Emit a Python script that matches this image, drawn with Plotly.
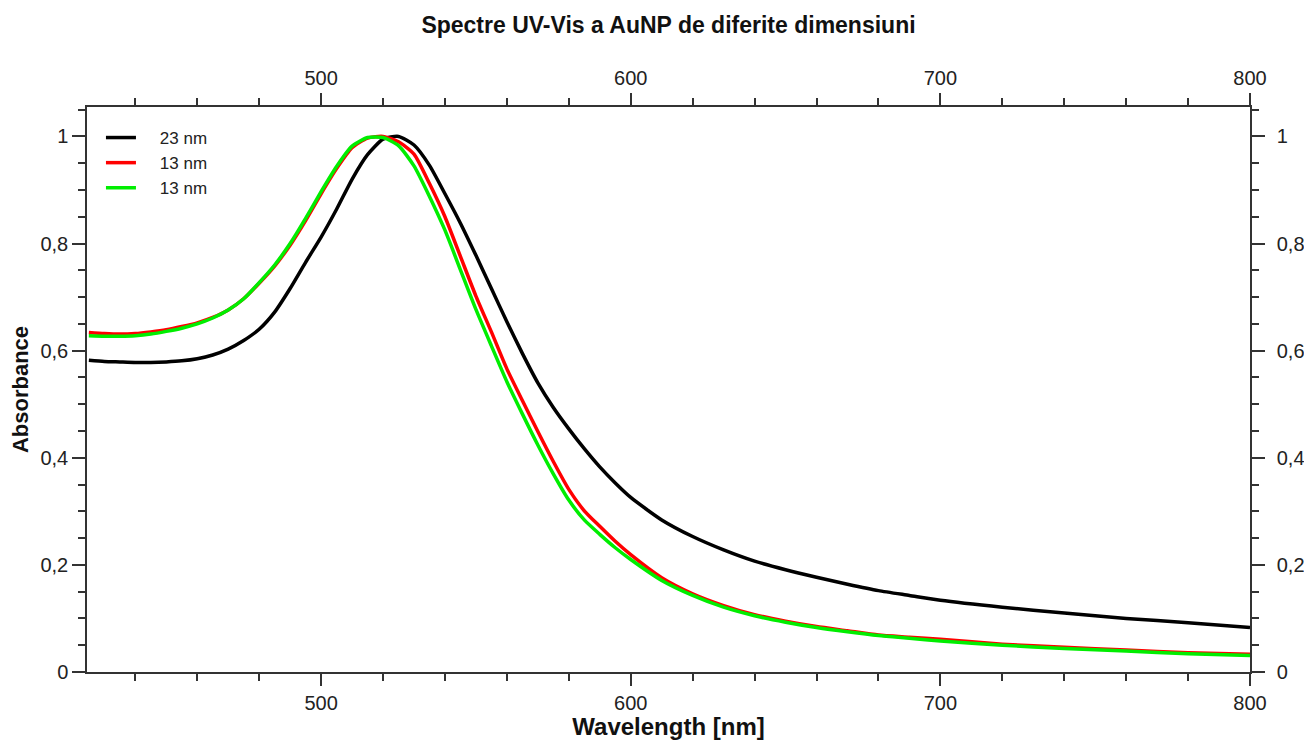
import plotly.graph_objects as go

# ---- data ----
wavelength = [425, 430, 435, 440, 445, 450, 455, 460, 465, 470, 475, 480, 485, 490, 495,
              500, 505, 510, 515, 520, 525, 530, 535, 540, 545, 550, 555, 560, 565, 570,
              575, 580, 585, 590, 595, 600, 610, 620, 630, 640, 650, 660, 670, 680, 690,
              700, 720, 740, 760, 780, 800]

abs_23nm = [0.582, 0.580, 0.579, 0.578, 0.578, 0.579, 0.581, 0.585, 0.592, 0.603, 0.619,
            0.640, 0.672, 0.716, 0.765, 0.812, 0.864, 0.920, 0.966, 0.995, 1.000, 0.984,
            0.946, 0.893, 0.838, 0.778, 0.716, 0.654, 0.595, 0.540, 0.494, 0.454, 0.417,
            0.383, 0.353, 0.326, 0.284, 0.253, 0.228, 0.207, 0.191, 0.177, 0.164, 0.152,
            0.143, 0.134, 0.121, 0.110, 0.100, 0.092, 0.083]

abs_13nm_a = [0.634, 0.632, 0.631, 0.632, 0.635, 0.639, 0.645, 0.652, 0.662, 0.676, 0.697,
              0.726, 0.758, 0.797, 0.843, 0.893, 0.940, 0.979, 0.997, 1.000, 0.990, 0.967,
              0.912, 0.850, 0.776, 0.702, 0.635, 0.566, 0.507, 0.449, 0.393, 0.341, 0.301,
              0.272, 0.244, 0.219, 0.176, 0.146, 0.124, 0.107, 0.095, 0.085, 0.077, 0.069,
              0.065, 0.061, 0.052, 0.046, 0.041, 0.036, 0.033]

abs_13nm_b = [0.628, 0.627, 0.627, 0.628, 0.631, 0.636, 0.642, 0.650, 0.661, 0.676, 0.697,
              0.727, 0.760, 0.800, 0.847, 0.897, 0.944, 0.982, 0.998, 0.998, 0.983, 0.945,
              0.888, 0.825, 0.751, 0.677, 0.609, 0.542, 0.482, 0.424, 0.370, 0.321, 0.284,
              0.257, 0.232, 0.210, 0.171, 0.143, 0.121, 0.105, 0.093, 0.083, 0.075, 0.068,
              0.063, 0.058, 0.050, 0.044, 0.039, 0.034, 0.031]

series_names = ["23 nm", "13 nm", "13 nm"]
series_colors = ["#000000", "#ff0000", "#00ee00"]

x_range = [424.4, 800]
y_range = [0, 1.055]

FONT = "Liberation Sans, Arial, sans-serif"
AXC = "#333333"
PAD = "\u00a0" * 4  # visual gap between legend line and label

fig = go.Figure()
for name, vals, col in zip(series_names, [abs_23nm, abs_13nm_a, abs_13nm_b], series_colors):
    fig.add_trace(go.Scatter(x=wavelength, y=vals, mode="lines", name=PAD + name,
                             line=dict(color=col, width=3.5, shape="spline", smoothing=0.6)))

# invisible companions so the mirrored top / right axes are drawn
fig.add_trace(go.Scatter(x=wavelength, y=abs_23nm, xaxis="x2", yaxis="y", mode="lines",
                         opacity=0, showlegend=False, hoverinfo="skip"))
fig.add_trace(go.Scatter(x=wavelength, y=abs_23nm, xaxis="x", yaxis="y2", mode="lines",
                         opacity=0, showlegend=False, hoverinfo="skip"))

common_x = dict(range=x_range, dtick=100, tick0=500, ticks="outside", ticklen=12,
                tickwidth=1.5, tickcolor=AXC, showline=True, linecolor=AXC, linewidth=1.5,
                showgrid=False, zeroline=False, automargin=False,
                minor=dict(dtick=20, tick0=0, ticks="outside", ticklen=7, tickwidth=1.5,
                           tickcolor=AXC, showgrid=False),
                tickfont=dict(family=FONT, size=20, color="#222"))
common_y = dict(range=y_range, dtick=0.2, tick0=0, ticks="outside", ticklen=13,
                tickwidth=1.5, tickcolor=AXC, showline=True, linecolor=AXC, linewidth=1.5,
                showgrid=False, zeroline=False, automargin=False,
                minor=dict(dtick=0.05, tick0=0, ticks="outside", ticklen=7, tickwidth=1.5,
                           tickcolor=AXC, showgrid=False),
                tickfont=dict(family=FONT, size=20, color="#222"))

fig.update_layout(
    width=1304, height=740,
    margin=dict(l=87, r=54, t=107, b=68),
    paper_bgcolor="white", plot_bgcolor="white",
    separators=", ",
    title=dict(text="<b>Spectre UV-Vis a AuNP de diferite dimensiuni</b>",
               x=0.5, xanchor="center", xref="paper", y=1 - 25 / 740, yanchor="middle",
               yref="container", font=dict(family=FONT, size=23, color="#111"),
               automargin=False),
    xaxis=dict(**common_x, side="bottom",
               title=dict(text="<b>Wavelength [nm]</b>", standoff=8,
                          font=dict(family=FONT, size=24, color="#111"))),
    xaxis2=dict(**common_x, side="top", overlaying="x", anchor="y"),
    yaxis=dict(**common_y, side="left",
               title=dict(text="<b>Absorbance</b>", standoff=6,
                          font=dict(family=FONT, size=22, color="#111"))),
    yaxis2=dict(**common_y, side="right", overlaying="y", anchor="x", ticklabelstandoff=8),
    legend=dict(x=0.012, y=0.977, xanchor="left", yanchor="top", bgcolor="rgba(0,0,0,0)",
                font=dict(family=FONT, size=17, color="#222"), itemwidth=30,
                tracegroupgap=0),
    showlegend=True,
)

fig.write_html("out.html")
